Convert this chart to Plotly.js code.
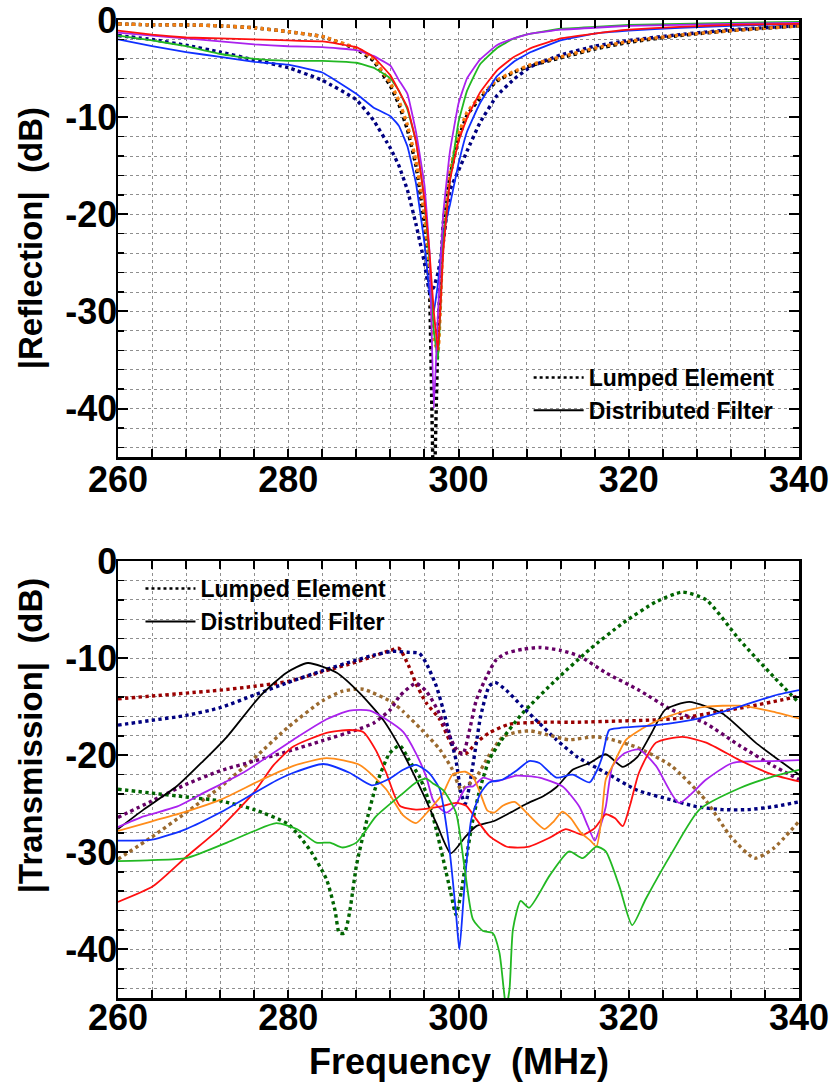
<!DOCTYPE html>
<html>
<head>
<meta charset="utf-8">
<script src="https://cdn.plot.ly/plotly-3.0.1.min.js"></script>
<style>html,body{margin:0;padding:0;background:#fff;}#chart{width:832px;height:1088px;}</style>
</head>
<body>
<div id="chart"></div>
<script>
// ---------- Reflection (top) ----------
const fR = [260, 264, 268, 272, 276, 280, 284, 288, 290, 292, 293, 294, 295, 296, 296.6, 297.1, 297.6, 298.2, 299, 300, 301, 302.5, 304.5, 306.5, 308.5, 312, 316, 320, 326, 332, 340];
const R_lumpedBlack  = [-0.4, -0.5, -0.5, -0.6, -0.8, -1.2, -1.7, -3.0, -4.2, -6.8, -8.7, -11.3, -15, -21, -28, -50, -32, -21, -16, -12.2, -9.8, -8.1, -6.3, -5.4, -4.7, -3.9, -3.0, -2.3, -1.6, -1.1, -0.6];
const R_lumpedNavy   = [-1.6, -2.0, -2.6, -3.3, -4.1, -4.9, -6.2, -8.2, -10.3, -13.2, -15, -17.5, -21, -25, -28, -27.5, -26, -23, -17.5, -15.5, -13.5, -10.6, -7.8, -6.1, -4.8, -3.6, -2.7, -2.1, -1.5, -1.0, -0.6];
const R_lumpedOrange = [-0.4, -0.5, -0.5, -0.6, -0.8, -1.2, -1.7, -2.9, -4.0, -6.5, -8.3, -10.8, -14.5, -20, -26, -33, -34, -22, -15.5, -11.8, -9.5, -7.9, -6.2, -5.3, -4.6, -3.8, -2.9, -2.2, -1.55, -1.1, -0.6];
const R_distBlue     = [-2.0, -2.7, -3.3, -3.8, -4.3, -4.6, -5.4, -7.6, -9.0, -9.9, -10.9, -13.0, -16.8, -23, -28, -30, -27, -22, -19, -14.8, -11.5, -8.6, -5.8, -4.3, -3.3, -2.1, -1.4, -1.1, -0.8, -0.6, -0.4];
const R_distGreen    = [-1.6, -2.1, -2.7, -3.5, -4.0, -4.2, -4.2, -4.4, -4.9, -6.0, -7.3, -9.2, -12.5, -18.5, -25, -32, -35, -23, -16.5, -10.5, -7.3, -4.6, -2.9, -1.9, -1.4, -0.9, -0.7, -0.5, -0.4, -0.3, -0.2];
const R_distPurple   = [-1.3, -1.6, -1.9, -2.2, -2.5, -2.7, -2.8, -3.1, -3.7, -4.7, -6.2, -7.6, -11.5, -17, -24, -40, -30, -20, -13.5, -8.6, -6.0, -4.1, -2.6, -1.9, -1.4, -1.0, -0.8, -0.6, -0.5, -0.4, -0.3];
const R_distRed      = [-1.1, -1.5, -1.8, -1.9, -2.0, -2.1, -2.2, -2.8, -3.8, -5.7, -7.3, -9.0, -12.5, -18.5, -24, -30, -34, -24, -16.5, -12.5, -10.1, -7.5, -5.2, -3.8, -2.9, -1.9, -1.4, -1.0, -0.7, -0.5, -0.4];

// ---------- Transmission (bottom) ----------
const fT_maroon = [260, 264, 268, 272, 276, 280, 284, 288, 290, 292, 293, 294.2, 295, 296.2, 297.8, 298.9, 299.7, 300.9, 302.1, 303.6, 306, 310, 314, 318, 322, 326, 330, 334, 338, 340];
const T_lumpedMaroon = [-14.2, -13.9, -13.6, -13.3, -12.9, -12.4, -11.4, -10.4, -9.8, -9.2, -9.0, -10.9, -12.6, -14.6, -16.3, -18.4, -19.6, -19.8, -18.7, -17.7, -16.8, -16.6, -16.6, -16.5, -16.4, -16.2, -15.6, -15.0, -14.3, -13.9];

const fT_navy = [260, 264, 268, 272, 276, 280, 284, 288, 290, 292.3, 294, 295.4, 296.2, 297.4, 298.2, 298.9, 299.7, 300.3, 300.8, 301.6, 302.1, 302.6, 303.6, 304.3, 305.6, 307.5, 309.5, 311.5, 314, 317.3, 321, 325, 328, 331, 334, 337, 340];
const T_lumpedNavy = [-16.9, -16.4, -15.9, -15.1, -13.8, -12.5, -11.3, -10.2, -9.7, -9.3, -9.4, -9.5, -10.5, -12.9, -15.3, -17.7, -20.5, -23.9, -25.0, -21.5, -18.7, -16.0, -12.9, -12.5, -13.3, -15.0, -16.7, -18.4, -20.2, -21.8, -23.6, -24.6, -25.3, -25.6, -25.6, -25.3, -24.8];

const fT_brown = [260, 264, 268, 272, 276, 280, 284, 286.4, 288.8, 292.3, 293.5, 295.7, 297.8, 299.3, 300.3, 302.1, 303.6, 305.2, 307, 308.5, 310.5, 313, 316, 318, 321, 325, 329, 332, 334.8, 337, 340];
const T_lumpedBrown = [-30.7, -28.4, -25.9, -23.3, -20.3, -17.1, -14.4, -13.4, -13.2, -14.6, -15.5, -17.4, -19.4, -21.5, -23.5, -22.2, -20.0, -18.1, -17.6, -17.5, -17.9, -18.4, -18.1, -18.4, -19.2, -21.1, -24.6, -28.4, -30.6, -29.6, -26.8];

const fT_plum = [260, 264, 268, 272, 276, 280, 284, 288, 290, 292, 293.1, 295, 296.2, 297.4, 298.6, 299.7, 300.5, 301.3, 302.1, 303.3, 304.4, 305.6, 307.5, 309.5, 312, 314.2, 317.3, 321.2, 325, 329, 333, 337, 340];
const T_lumpedPlum = [-26.4, -24.7, -23.0, -21.6, -20.6, -19.6, -18.5, -17.4, -16.7, -15.3, -13.9, -12.6, -13.4, -15.1, -17.4, -19.3, -19.9, -17.4, -14.3, -11.9, -10.2, -9.5, -9.1, -8.9, -9.2, -9.8, -11.5, -13.3, -15.3, -16.7, -19.0, -21.1, -22.5];

const fT_dgreen = [260, 264, 268, 272, 276, 280, 282.5, 284.5, 285.5, 286, 286.6, 287.2, 288, 289, 290.3, 291.9, 293.1, 294.2, 295.4, 296.2, 297.2, 298.2, 299.1, 299.7, 300.3, 300.9, 301.7, 302.6, 303.6, 305, 307.5, 311.5, 315.4, 319.3, 323.2, 326.3, 329.1, 333, 337, 340];
const T_lumpedDGreen = [-23.5, -23.9, -24.3, -24.7, -25.6, -27.1, -29.7, -32.8, -36.0, -38.3, -38.3, -36.2, -31.4, -27.5, -23.2, -19.8, -19.0, -20.5, -22.2, -23.9, -27.0, -30.7, -34.2, -36.4, -34.2, -30.7, -26.6, -23.2, -20.5, -18.5, -15.7, -12.2, -9.1, -6.4, -4.2, -3.2, -4.0, -8.1, -11.9, -14.6];

const fT_black = [260, 263, 266.9, 270, 272.8, 276.7, 279.8, 282.3, 285.7, 288.4, 291.1, 293.5, 295.8, 297.4, 299.1, 300.9, 302.1, 304.1, 306.1, 308, 310, 311.5, 313.4, 315.4, 317.3, 319.3, 321, 322.5, 324.3, 327.1, 331, 334.9, 340];
const T_distBlack = [-27.6, -25.6, -23.2, -20.6, -18.1, -13.9, -11.5, -10.5, -11.5, -13.6, -16.3, -19.8, -23.9, -27.0, -30.1, -28.3, -27.3, -26.8, -25.9, -25.0, -24.2, -23.3, -21.5, -20.8, -19.9, -21.2, -20.2, -18.0, -15.3, -14.5, -15.7, -18.7, -22.0];

const fT_violet = [260, 263, 266.9, 270, 274.7, 277.5, 280.6, 284.5, 287.2, 289.6, 291.5, 293.5, 295, 296.2, 297, 297.6, 298.6, 299.7, 300.9, 301.7, 302.9, 304.4, 306.8, 309.5, 312.2, 314.2, 315.2, 316, 316.6, 317.3, 318.1, 319.5, 321.2, 323.2, 325.9, 329.1, 332.2, 336.9, 340];
const T_distViolet = [-27.4, -26.3, -25.3, -23.9, -21.8, -20.2, -18.4, -16.3, -15.4, -15.4, -16.3, -17.6, -19.8, -22.2, -24.6, -25.3, -25.9, -25.1, -23.3, -23.2, -22.3, -22.7, -22.1, -22.3, -23.2, -25.3, -27.3, -28.8, -27.5, -25.3, -21.1, -19.8, -19.4, -21.1, -24.9, -22.5, -20.8, -20.6, -20.5];

const fT_red = [260, 264.1, 268.1, 272, 276, 278.3, 280.6, 284.5, 287.2, 288.8, 290.3, 291.5, 293.1, 295, 297.8, 299.7, 300.9, 302.1, 303.6, 305.6, 306.6, 308.3, 310.7, 312.6, 314.6, 316, 317.3, 318.4, 319.3, 320.2, 321.2, 323.2, 326.3, 329.1, 333, 336.9, 340];
const T_distRed = [-35.1, -33.5, -30.4, -27.5, -23.8, -21.0, -19.1, -17.7, -17.4, -17.6, -19.5, -21.8, -25.2, -25.6, -25.3, -24.9, -25.2, -26.6, -28.3, -29.4, -29.5, -29.4, -28.5, -27.6, -28.2, -27.5, -26.1, -26.5, -27.3, -25.0, -21.8, -18.7, -18.1, -18.7, -20.5, -22.0, -22.7];

const fT_orange = [260, 264, 268, 272, 276.7, 280.6, 284.5, 288.4, 291.5, 293.5, 295, 296.6, 298.2, 299.3, 300.8, 301.7, 302.6, 303.4, 304.2, 305.2, 306.6, 308.3, 310.1, 311.2, 312.2, 313.2, 314.4, 315.5, 316.2, 316.8, 317.3, 318.1, 319.7, 321.5, 323.2, 326, 329.1, 333, 336.9, 340];
const T_distOrange = [-27.8, -26.8, -25.8, -24.6, -22.6, -21.1, -20.3, -21.0, -23.5, -26.2, -27.0, -25.6, -23.9, -22.0, -21.7, -22.2, -24.0, -25.7, -25.9, -25.2, -24.8, -26.2, -27.6, -26.8, -25.8, -26.5, -28.0, -28.8, -29.4, -26.5, -22.5, -21.1, -18.4, -17.3, -16.5, -15.6, -15.0, -14.9, -15.5, -16.2];

const fT_blue = [260, 264, 268, 272, 276, 278.6, 280.6, 284.1, 287.2, 289.8, 291.7, 293.5, 295, 296.5, 297.8, 298.9, 299.7, 300.1, 300.7, 301.5, 302.6, 303.6, 305.2, 306.8, 308.3, 309.5, 311.5, 313.4, 315.4, 316.3, 316.9, 317.7, 318.9, 323.2, 328.3, 333, 336.9, 340];
const T_distBlue = [-28.8, -28.7, -27.6, -25.9, -23.9, -22.6, -21.8, -20.9, -21.8, -23.1, -22.5, -21.5, -21.0, -21.8, -23.5, -29.4, -36.2, -40.0, -33.5, -26.6, -23.9, -22.8, -22.5, -21.6, -20.6, -20.8, -22.3, -22.0, -22.8, -21.5, -20.1, -17.4, -17.2, -16.9, -16.2, -15.0, -13.9, -13.3];

const fT_green = [260, 264, 268, 272.8, 276, 278.6, 281, 283.3, 284.9, 286.4, 288, 290.3, 293.5, 295, 296.2, 297, 298.2, 299.7, 300.7, 301.7, 302.9, 304, 304.8, 305.3, 305.6, 306, 306.4, 307.3, 308.3, 310.7, 313, 314.6, 316.2, 317.3, 318.9, 320.4, 322, 325.1, 328.3, 333, 336.9, 340];
const T_distGreen = [-30.9, -30.8, -30.6, -29.0, -27.8, -27.0, -27.6, -29.0, -29.0, -29.5, -29.0, -26.3, -23.9, -22.8, -22.4, -22.9, -23.6, -25.9, -31.5, -36.9, -38.1, -38.3, -40.3, -44, -46, -44, -37.9, -35.0, -35.7, -32.4, -29.9, -30.6, -29.4, -29.9, -33.5, -37.5, -34.8, -30.0, -25.6, -23.4, -22.2, -21.5];

// ---------- labels ----------
const yTickVals = [0, -10, -20, -30, -40];
const yTickText = ['0', '-10', '-20', '-30', '-40'];
const yTitleTop = '|Reflection|\u00a0 (dB)';
const yTitleBottom = '|Transmission|\u00a0 (dB)';
const xTitle = 'Frequency\u00a0 (MHz)';
const legendNames = ['Lumped Element', 'Distributed Filter'];

// ---------- styles ----------
const DOT = 3.4, SOLID = 1.8;
function dotted(x, y, color, xa, ya, sm) {
  return {x: x, y: y, xaxis: xa, yaxis: ya, mode: 'lines', showlegend: false, hoverinfo: 'skip',
          line: {color: color, width: DOT, dash: 'dot', shape: 'spline', smoothing: sm}};
}
function solid(x, y, color, xa, ya, sm) {
  return {x: x, y: y, xaxis: xa, yaxis: ya, mode: 'lines', showlegend: false, hoverinfo: 'skip',
          line: {color: color, width: SOLID, shape: 'spline', smoothing: sm}};
}

const traces = [
  dotted(fR, R_lumpedBlack, '#000000', 'x', 'y', 0.3),
  dotted(fR, R_lumpedNavy, '#000080', 'x', 'y', 0.3),
  dotted(fR, R_lumpedOrange, '#f57f10', 'x', 'y', 0.3),
  solid(fR, R_distBlue, '#1030ff', 'x', 'y', 0.3),
  solid(fR, R_distGreen, '#22b822', 'x', 'y', 0.3),
  solid(fR, R_distPurple, '#aa22ee', 'x', 'y', 0.3),
  solid(fR, R_distRed, '#ff1010', 'x', 'y', 0.3),

  dotted(fT_maroon, T_lumpedMaroon, '#990000', 'x2', 'y2', 0.6),
  dotted(fT_navy, T_lumpedNavy, '#000080', 'x2', 'y2', 0.6),
  dotted(fT_brown, T_lumpedBrown, '#9b6a2f', 'x2', 'y2', 0.6),
  dotted(fT_plum, T_lumpedPlum, '#660066', 'x2', 'y2', 0.6),
  dotted(fT_dgreen, T_lumpedDGreen, '#006400', 'x2', 'y2', 0.6),
  solid(fT_black, T_distBlack, '#000000', 'x2', 'y2', 0.6),
  solid(fT_violet, T_distViolet, '#aa22ee', 'x2', 'y2', 0.6),
  solid(fT_red, T_distRed, '#ff1010', 'x2', 'y2', 0.6),
  solid(fT_orange, T_distOrange, '#ff8c1a', 'x2', 'y2', 0.6),
  solid(fT_blue, T_distBlue, '#1030ff', 'x2', 'y2', 0.6),
  solid(fT_green, T_distGreen, '#22b822', 'x2', 'y2', 0.6),

  // legend entries
  {x: [null], y: [null], xaxis: 'x', yaxis: 'y', mode: 'lines', name: legendNames[0], legend: 'legend', line: {color: '#000', width: 2.6, dash: 'dot'}},
  {x: [null], y: [null], xaxis: 'x', yaxis: 'y', mode: 'lines', name: legendNames[1], legend: 'legend', line: {color: '#000', width: 2}},
  {x: [null], y: [null], xaxis: 'x2', yaxis: 'y2', mode: 'lines', name: legendNames[0], legend: 'legend2', line: {color: '#000', width: 2.6, dash: 'dot'}},
  {x: [null], y: [null], xaxis: 'x2', yaxis: 'y2', mode: 'lines', name: legendNames[1], legend: 'legend2', line: {color: '#000', width: 2}}
];

const SANS = "'Liberation Sans', Arial, sans-serif";
const tickFont = {family: SANS, size: 36, color: '#000', weight: 'bold'};
const GRID = '#8f8f8f';

function xAxis(anchor, standoff) {
  return {
    anchor: anchor, range: [260, 340], dtick: 20, tick0: 260,
    showline: true, linewidth: 2.5, linecolor: '#000', mirror: 'allticks',
    ticks: 'inside', ticklen: 8, tickwidth: 2, tickcolor: '#000',
    showgrid: true, gridcolor: GRID, gridwidth: 1, griddash: 'dot',
    minor: {dtick: 4, tick0: 260, ticks: 'inside', ticklen: 8, tickwidth: 2, tickcolor: '#000', showgrid: true, gridcolor: GRID, gridwidth: 1, griddash: 'dot'},
    zeroline: false, tickfont: tickFont, ticklabelstandoff: standoff, ticklabeloverflow: 'allow'
  };
}
function yAxis(domain, anchor) {
  return {
    domain: domain, anchor: anchor, range: [-45, 0],
    tickmode: 'array', tickvals: yTickVals, ticktext: yTickText,
    showline: true, linewidth: 2.5, linecolor: '#000', mirror: 'allticks',
    ticks: 'inside', ticklen: 10, tickwidth: 2, tickcolor: '#000',
    showgrid: true, gridcolor: GRID, gridwidth: 1, griddash: 'dot',
    minor: {dtick: 2, tick0: 0, ticks: 'inside', ticklen: 6, tickwidth: 1.5, tickcolor: '#000', showgrid: true, gridcolor: GRID, gridwidth: 1, griddash: 'dot'},
    zeroline: false, tickfont: tickFont, ticklabelstandoff: -9, ticklabeloverflow: 'allow'
  };
}

const titleFont = {family: SANS, size: 33, color: '#000', weight: 'bold'};
const legFont = {family: SANS, size: 23, color: '#000', weight: 'bold'};
const layout = {
  width: 832, height: 1088,
  margin: {l: 118, r: 33, t: 20, b: 90},
  paper_bgcolor: '#fff', plot_bgcolor: '#fff',
  showlegend: true,
  xaxis: xAxis('y', -11),
  yaxis: yAxis([0.553, 1], 'x'),
  xaxis2: xAxis('y2', -14),
  yaxis2: yAxis([0, 0.4468], 'x2'),
  legend: {x: 0.603, y: 0.6176, xanchor: 'left', yanchor: 'middle', bgcolor: 'rgba(0,0,0,0)', font: legFont, itemwidth: 50, tracegroupgap: 0},
  legend2: {x: 0.033, y: 0.4018, xanchor: 'left', yanchor: 'middle', bgcolor: 'rgba(0,0,0,0)', font: legFont, itemwidth: 50, tracegroupgap: 0},
  annotations: [
    {text: yTitleTop, xref: 'paper', yref: 'paper', x: -0.129, y: 0.777, xanchor: 'center', yanchor: 'middle', textangle: -90, showarrow: false, font: titleFont},
    {text: yTitleBottom, xref: 'paper', yref: 'paper', x: -0.129, y: 0.2689, xanchor: 'center', yanchor: 'middle', textangle: -90, showarrow: false, font: titleFont},
    {text: xTitle, xref: 'paper', yref: 'paper', x: 0.5, y: -0.0645, xanchor: 'center', yanchor: 'middle', showarrow: false, font: {family: SANS, size: 36, color: '#000', weight: 'bold'}}
  ]
};

Plotly.newPlot('chart', traces, layout, {staticPlot: true, displayModeBar: false});
</script>
</body>
</html>
